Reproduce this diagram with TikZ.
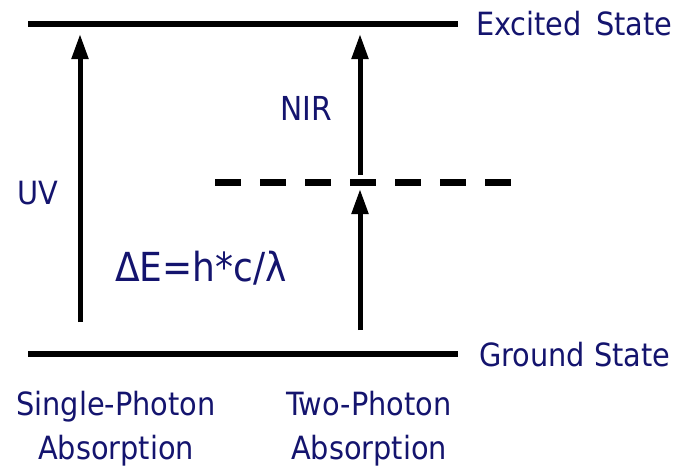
\documentclass[tikz,border=0pt]{standalone}
\usepackage{fontspec}
\setmainfont{DejaVu Sans Condensed}
\usetikzlibrary{arrows.meta}
\definecolor{labelblue}{RGB}{20,20,110}
\tikzset{
  level/.style={line width=6pt},
  virtual/.style={line width=7pt, dash pattern=on 26pt off 19pt},
  photon/.style={line width=5pt, -{Triangle[length=25pt,width=16pt]}},
  lbl/.style={text=labelblue, font=\fontsize{32}{38}\selectfont, inner sep=0pt},
}
\begin{document}
\begin{tikzpicture}[x=1pt, y=-1pt]
    \useasboundingbox (0,0) rectangle (677,472);
    \def\xl{80}
    \def\xr{360}

    % Energieniveaus
    \coordinate (ex0) at (28,24);
    \coordinate (ex1) at (458,24);
    \coordinate (gr0) at (28,354);
    \coordinate (gr1) at (458,354);
    \draw[level] (ex0) -- (ex1);
    \draw[level] (gr0) -- (gr1);
    \node[lbl, anchor=west] (exc) at (476,24) {Excited\, State};
    \node[lbl, anchor=west] (gnd) at (479,355) {Ground State};

    % virtueller Zustand
    \coordinate (vi0) at (215,182);
    \coordinate (vi1) at (512,182);
    \draw[virtual] (vi0) -- (vi1);

    % Ein-Photonen-Absorption (UV)
    \coordinate (uv0) at (\xl,322);
    \coordinate (uv1) at (\xl,34);
    \draw[photon] (uv0) -- (uv1);
    \node[lbl, anchor=west] (uv) at (17,193) {UV};

    % Zwei-Photonen-Absorption (NIR)
    \coordinate (ir0) at (\xr,330);
    \coordinate (ir1) at (\xr,189);
    \coordinate (ir2) at (\xr,175);
    \coordinate (ir3) at (\xr,34);
    \draw[photon] (ir0) -- (ir1);
    \draw[photon] (ir2) -- (ir3);
    \node[lbl, anchor=west, font=\fontsize{33}{38}\selectfont] (nir) at (280,108) {NIR};

    \node[lbl, anchor=west, font=\fontsize{40}{46}\selectfont] (de) at (115,268) {ΔE=h*c/λ};

    % Beschriftung unten
    \node[lbl, align=center] (sp) at (116,429) {Single-Photon\\[6pt]Absorption};
    \node[lbl, align=center] (tp) at (369,429) {Two-Photon\\[6pt]Absorption};
\end{tikzpicture}
\end{document}
